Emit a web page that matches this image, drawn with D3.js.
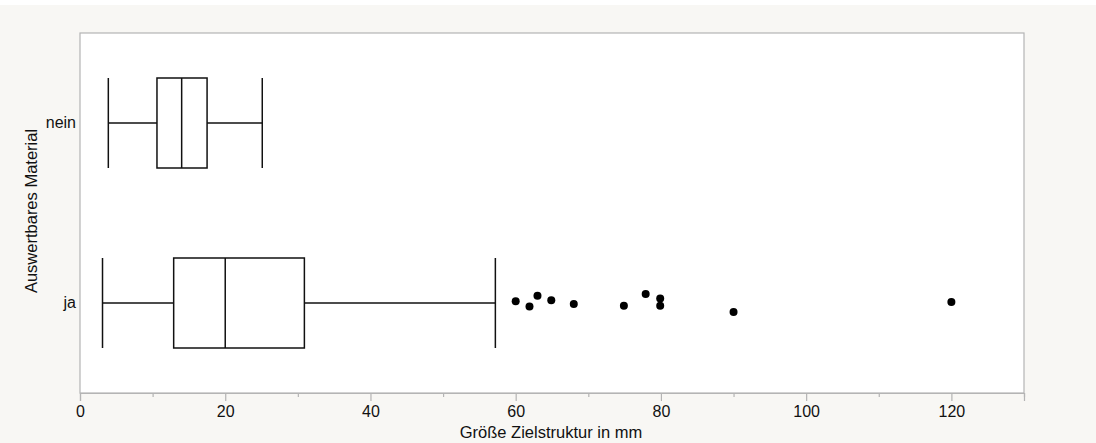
<html>
<head>
<script src="https://d3js.org/d3.v7.min.js"></script>
<style>
  body { margin: 0; background: #ffffff; }
  text { font-family: "Liberation Sans", Arial, sans-serif; }
</style>
</head>
<body>
<script>
    // groups (top to bottom) and their box statistics
    let groups = ["nein", "ja"];
    let mins    = [3.9, 3.1];
    let q1s     = [10.6, 12.9];
    let medians = [14.0, 20.0];
    let q3s     = [17.5, 30.9];
    let maxs    = [25.1, 57.2];

    // outliers of the "ja" group, with the vertical jitter as fraction of band
    let outlierValues = [60.0, 61.9, 63.0, 64.9, 68.0, 74.9, 77.9, 79.9, 79.9, 90.0, 120.0];
    let outlierJitter = [-0.01, 0.02, -0.04, -0.015, 0.005, 0.015, -0.05, -0.025, 0.015, 0.05, -0.005];

    let xTicks = [0, 20, 40, 60, 80, 100, 120];
    let xMinorTicks = [10, 30, 50, 70, 90, 110, 130];

    let width = 1096, height = 443;
    let svg = d3.select("body").append("svg")
        .attr("width", width)
        .attr("height", height);

    // background
    svg.append("rect")
        .attr("x", 0).attr("y", 5)
        .attr("width", width).attr("height", height - 5)
        .attr("fill", "#f8f7f4");

    let plotLeft = 80, plotRight = 1024, plotTop = 33, plotBottom = 393;

    let x = d3.scaleLinear().domain([0, 130]).range([plotLeft, plotRight]);
    let y = d3.scaleBand().domain(groups).range([plotTop, plotBottom]);

    // plot area
    svg.append("rect")
        .attr("x", plotLeft).attr("y", plotTop)
        .attr("width", plotRight - plotLeft).attr("height", plotBottom - plotTop)
        .attr("fill", "white")
        .attr("stroke", "#b4b4b4")
        .attr("stroke-width", 1.2);

    // x axis
    let xAxis = svg.append("g")
        .attr("transform", "translate(0," + plotBottom + ")")
        .call(d3.axisBottom(x).tickValues(xTicks).tickSize(8).tickPadding(5));
    xAxis.select(".domain").attr("stroke", "#b4b4b4").attr("stroke-width", 1.2);
    xAxis.selectAll(".tick line").attr("stroke", "#b4b4b4").attr("stroke-width", 1.2);
    xAxis.selectAll(".tick text")
        .attr("fill", "#111")
        .style("font-size", "16px")
        .style("font-family", "Liberation Sans, Arial, sans-serif");

    let xMinor = svg.append("g")
        .attr("transform", "translate(0," + plotBottom + ")")
        .call(d3.axisBottom(x).tickValues(xMinorTicks).tickSize(4).tickFormat(""));
    xMinor.select(".domain").remove();
    xMinor.selectAll(".tick line").attr("stroke", "#b4b4b4").attr("stroke-width", 1.2);

    // y axis labels
    let yAxis = svg.append("g")
        .attr("transform", "translate(" + plotLeft + ",0)")
        .call(d3.axisLeft(y).tickSize(0).tickPadding(4));
    yAxis.select(".domain").remove();
    yAxis.selectAll(".tick text")
        .attr("fill", "#111")
        .style("font-size", "16px")
        .style("font-family", "Liberation Sans, Arial, sans-serif");

    // axis titles
    svg.append("text")
        .attr("x", 551)
        .attr("y", 438)
        .attr("text-anchor", "middle")
        .attr("fill", "#111")
        .style("font-size", "16.5px")
        .text("Größe Zielstruktur in mm");

    svg.append("text")
        .attr("transform", "translate(37,211) rotate(-90)")
        .attr("text-anchor", "middle")
        .attr("fill", "#111")
        .style("font-size", "16.5px")
        .text("Auswertbares Material");

    // boxes
    let boxH = y.bandwidth() / 2;
    groups.forEach((g, i) => {
        let cy = y(g) + y.bandwidth() / 2;
        let gEl = svg.append("g")
            .attr("stroke", "#111")
            .attr("stroke-width", 1.5)
            .attr("fill", "none");

        // whiskers
        gEl.append("line")
            .attr("x1", x(mins[i])).attr("x2", x(q1s[i]))
            .attr("y1", cy).attr("y2", cy);
        gEl.append("line")
            .attr("x1", x(q3s[i])).attr("x2", x(maxs[i]))
            .attr("y1", cy).attr("y2", cy);
        // caps
        [mins[i], maxs[i]].forEach(v => {
            gEl.append("line")
                .attr("x1", x(v)).attr("x2", x(v))
                .attr("y1", cy - boxH / 2).attr("y2", cy + boxH / 2);
        });
        // box
        gEl.append("rect")
            .attr("x", x(q1s[i]))
            .attr("y", cy - boxH / 2)
            .attr("width", x(q3s[i]) - x(q1s[i]))
            .attr("height", boxH);
        // median
        gEl.append("line")
            .attr("x1", x(medians[i])).attr("x2", x(medians[i]))
            .attr("y1", cy - boxH / 2).attr("y2", cy + boxH / 2);
    });

    // outliers
    let jaCy = y("ja") + y.bandwidth() / 2;
    svg.selectAll("circle.out")
        .data(outlierValues)
        .enter().append("circle")
        .attr("class", "out")
        .attr("cx", d => x(d))
        .attr("cy", (d, i) => jaCy + outlierJitter[i] * y.bandwidth())
        .attr("r", 4)
        .attr("fill", "#000");
</script>
</body>
</html>
